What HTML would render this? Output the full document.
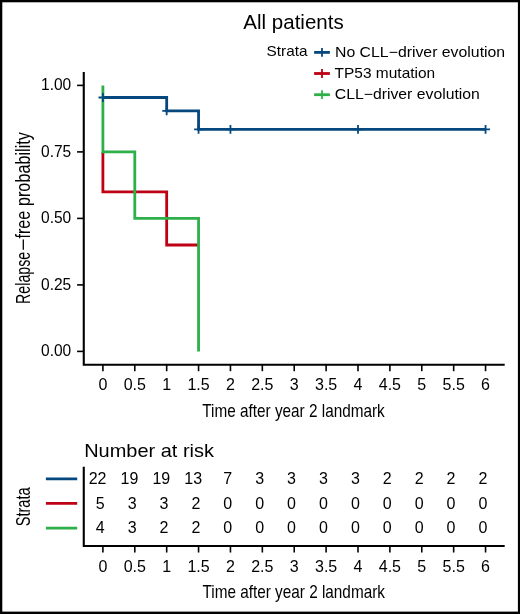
<!DOCTYPE html>
<html><head><meta charset="utf-8"><title>All patients</title>
<style>html,body{margin:0;padding:0;background:#fff;}svg{display:block;will-change:transform;}text{font-family:"Liberation Sans",sans-serif;}</style>
</head><body>
<svg width="520" height="614" viewBox="0 0 520 614" font-family="Liberation Sans, sans-serif" fill="#000">
<rect x="0" y="0" width="520" height="614" fill="#000"/>
<rect x="2.3" y="2.3" width="515.6" height="609.3" fill="#fff"/>
<text x="293.5" y="29" font-size="20.5" text-anchor="middle">All patients</text>
<text transform="translate(266.6,56.4) scale(1.05,1)" font-size="14.6" text-anchor="start">Strata</text>
<text transform="translate(335,57) scale(1.084,1)" font-size="14.6" text-anchor="start">No CLL−driver evolution</text>
<text transform="translate(334.6,77.8) scale(1.06,1)" font-size="14.6" text-anchor="start">TP53 mutation</text>
<text transform="translate(334.8,99) scale(1.081,1)" font-size="14.6" text-anchor="start">CLL−driver evolution</text>
<line x1="314.1" x2="329.9" y1="52.4" y2="52.4" stroke="#05487F" stroke-width="2.8"/>
<line x1="322" x2="322" y1="48" y2="56.8" stroke="#05487F" stroke-width="1.8"/>
<line x1="314.1" x2="329.9" y1="73.5" y2="73.5" stroke="#BE0014" stroke-width="2.8"/>
<line x1="322" x2="322" y1="69.1" y2="77.9" stroke="#BE0014" stroke-width="1.8"/>
<line x1="314.1" x2="329.9" y1="94.7" y2="94.7" stroke="#2DB04A" stroke-width="2.8"/>
<line x1="322" x2="322" y1="90.3" y2="99.1" stroke="#2DB04A" stroke-width="1.8"/>
<path d="M102.9,97.49 L166.68,97.49 L166.68,110.85 L198.56,110.85 L198.56,129.36 L485.55,129.36" fill="none" stroke="#05487F" stroke-width="2.8" stroke-linejoin="miter" stroke-linecap="butt"/>
<path d="M102.9,151.9 L102.9,191.8 L166.68,191.8 L166.68,245 L198.56,245" fill="none" stroke="#BE0014" stroke-width="2.8" stroke-linejoin="miter" stroke-linecap="butt"/>
<path d="M102.9,85.4 L102.9,151.9 L134.79,151.9 L134.79,218.4 L198.56,218.4 L198.56,351.4" fill="none" stroke="#2DB04A" stroke-width="2.8" stroke-linejoin="miter" stroke-linecap="butt"/>
<path d="M98.5,97.49 H107.3 M102.9,93.09 V101.89" stroke="#05487F" stroke-width="1.8" fill="none"/>
<path d="M162.28,110.85 H171.08 M166.68,106.45 V115.25" stroke="#05487F" stroke-width="1.8" fill="none"/>
<path d="M194.16,129.36 H202.96 M198.56,124.96 V133.76" stroke="#05487F" stroke-width="1.8" fill="none"/>
<path d="M226.05,129.36 H234.85 M230.45,124.96 V133.76" stroke="#05487F" stroke-width="1.8" fill="none"/>
<path d="M353.6,129.36 H362.4 M358,124.96 V133.76" stroke="#05487F" stroke-width="1.8" fill="none"/>
<path d="M481.15,129.36 H489.95 M485.55,124.96 V133.76" stroke="#05487F" stroke-width="1.8" fill="none"/>
<path d="M83.77,72.1 V364.7 H504.68" fill="none" stroke="#000" stroke-width="2.1" stroke-linecap="butt" stroke-linejoin="miter"/>
<line x1="77.07" x2="83.77" y1="351.4" y2="351.4" stroke="#000" stroke-width="1.6"/>
<text transform="translate(71.2,356) scale(0.97,1)" font-size="16" text-anchor="end">0.00</text>
<line x1="77.07" x2="83.77" y1="284.9" y2="284.9" stroke="#000" stroke-width="1.6"/>
<text transform="translate(71.2,289.5) scale(0.97,1)" font-size="16" text-anchor="end">0.25</text>
<line x1="77.07" x2="83.77" y1="218.4" y2="218.4" stroke="#000" stroke-width="1.6"/>
<text transform="translate(71.2,223) scale(0.97,1)" font-size="16" text-anchor="end">0.50</text>
<line x1="77.07" x2="83.77" y1="151.9" y2="151.9" stroke="#000" stroke-width="1.6"/>
<text transform="translate(71.2,156.5) scale(0.97,1)" font-size="16" text-anchor="end">0.75</text>
<line x1="77.07" x2="83.77" y1="85.4" y2="85.4" stroke="#000" stroke-width="1.6"/>
<text transform="translate(71.2,90) scale(0.97,1)" font-size="16" text-anchor="end">1.00</text>
<line x1="102.9" x2="102.9" y1="364.7" y2="371.2" stroke="#000" stroke-width="1.6"/>
<text x="102.9" y="389.5" font-size="16" text-anchor="middle">0</text>
<line x1="134.79" x2="134.79" y1="364.7" y2="371.2" stroke="#000" stroke-width="1.6"/>
<text x="134.79" y="389.5" font-size="16" text-anchor="middle">0.5</text>
<line x1="166.68" x2="166.68" y1="364.7" y2="371.2" stroke="#000" stroke-width="1.6"/>
<text x="166.68" y="389.5" font-size="16" text-anchor="middle">1</text>
<line x1="198.56" x2="198.56" y1="364.7" y2="371.2" stroke="#000" stroke-width="1.6"/>
<text x="198.56" y="389.5" font-size="16" text-anchor="middle">1.5</text>
<line x1="230.45" x2="230.45" y1="364.7" y2="371.2" stroke="#000" stroke-width="1.6"/>
<text x="230.45" y="389.5" font-size="16" text-anchor="middle">2</text>
<line x1="262.34" x2="262.34" y1="364.7" y2="371.2" stroke="#000" stroke-width="1.6"/>
<text x="262.34" y="389.5" font-size="16" text-anchor="middle">2.5</text>
<line x1="294.23" x2="294.23" y1="364.7" y2="371.2" stroke="#000" stroke-width="1.6"/>
<text x="294.23" y="389.5" font-size="16" text-anchor="middle">3</text>
<line x1="326.11" x2="326.11" y1="364.7" y2="371.2" stroke="#000" stroke-width="1.6"/>
<text x="326.11" y="389.5" font-size="16" text-anchor="middle">3.5</text>
<line x1="358" x2="358" y1="364.7" y2="371.2" stroke="#000" stroke-width="1.6"/>
<text x="358" y="389.5" font-size="16" text-anchor="middle">4</text>
<line x1="389.89" x2="389.89" y1="364.7" y2="371.2" stroke="#000" stroke-width="1.6"/>
<text x="389.89" y="389.5" font-size="16" text-anchor="middle">4.5</text>
<line x1="421.77" x2="421.77" y1="364.7" y2="371.2" stroke="#000" stroke-width="1.6"/>
<text x="421.77" y="389.5" font-size="16" text-anchor="middle">5</text>
<line x1="453.66" x2="453.66" y1="364.7" y2="371.2" stroke="#000" stroke-width="1.6"/>
<text x="453.66" y="389.5" font-size="16" text-anchor="middle">5.5</text>
<line x1="485.55" x2="485.55" y1="364.7" y2="371.2" stroke="#000" stroke-width="1.6"/>
<text x="485.55" y="389.5" font-size="16" text-anchor="middle">6</text>
<text transform="translate(293.5,416.5) scale(0.824,1)" font-size="18.6" text-anchor="middle">Time after year 2 landmark</text>
<text transform="translate(29.5,303.9) rotate(-90) scale(0.689,1)" font-size="20.6" text-anchor="start">Relapse</text>
<line x1="23.3" x2="23.3" y1="249.7" y2="239.6" stroke="#000" stroke-width="1.3"/>
<text transform="translate(29.5,238.6) rotate(-90) scale(0.789,1)" font-size="20.6" text-anchor="start">free probability</text>
<text transform="translate(84.2,456.8) scale(1.11,1)" font-size="18.0" text-anchor="start">Number at risk</text>
<path d="M83.77,466.7 V546 H504.68" fill="none" stroke="#000" stroke-width="2.1" stroke-linecap="butt"/>
<line x1="45.9" x2="77.2" y1="478.9" y2="478.9" stroke="#05487F" stroke-width="2.8"/>
<line x1="45.9" x2="77.2" y1="503.4" y2="503.4" stroke="#BE0014" stroke-width="2.8"/>
<line x1="45.9" x2="77.2" y1="528.1" y2="528.1" stroke="#2DB04A" stroke-width="2.8"/>
<text x="97.56" y="483.5" font-size="16.0" text-anchor="middle">22</text>
<text x="129.45" y="483.5" font-size="16.0" text-anchor="middle">19</text>
<text x="161.34" y="483.5" font-size="16.0" text-anchor="middle">19</text>
<text x="193.22" y="483.5" font-size="16.0" text-anchor="middle">13</text>
<text x="227.78" y="483.5" font-size="16.0" text-anchor="middle">7</text>
<text x="259.67" y="483.5" font-size="16.0" text-anchor="middle">3</text>
<text x="291.56" y="483.5" font-size="16.0" text-anchor="middle">3</text>
<text x="323.44" y="483.5" font-size="16.0" text-anchor="middle">3</text>
<text x="355.33" y="483.5" font-size="16.0" text-anchor="middle">3</text>
<text x="387.22" y="483.5" font-size="16.0" text-anchor="middle">2</text>
<text x="419.11" y="483.5" font-size="16.0" text-anchor="middle">2</text>
<text x="450.99" y="483.5" font-size="16.0" text-anchor="middle">2</text>
<text x="482.88" y="483.5" font-size="16.0" text-anchor="middle">2</text>
<text x="100.23" y="508.5" font-size="16.0" text-anchor="middle">5</text>
<text x="132.12" y="508.5" font-size="16.0" text-anchor="middle">3</text>
<text x="164.01" y="508.5" font-size="16.0" text-anchor="middle">3</text>
<text x="195.89" y="508.5" font-size="16.0" text-anchor="middle">2</text>
<text x="227.78" y="508.5" font-size="16.0" text-anchor="middle">0</text>
<text x="259.67" y="508.5" font-size="16.0" text-anchor="middle">0</text>
<text x="291.56" y="508.5" font-size="16.0" text-anchor="middle">0</text>
<text x="323.44" y="508.5" font-size="16.0" text-anchor="middle">0</text>
<text x="355.33" y="508.5" font-size="16.0" text-anchor="middle">0</text>
<text x="387.22" y="508.5" font-size="16.0" text-anchor="middle">0</text>
<text x="419.11" y="508.5" font-size="16.0" text-anchor="middle">0</text>
<text x="450.99" y="508.5" font-size="16.0" text-anchor="middle">0</text>
<text x="482.88" y="508.5" font-size="16.0" text-anchor="middle">0</text>
<text x="100.23" y="533" font-size="16.0" text-anchor="middle">4</text>
<text x="132.12" y="533" font-size="16.0" text-anchor="middle">3</text>
<text x="164.01" y="533" font-size="16.0" text-anchor="middle">2</text>
<text x="195.89" y="533" font-size="16.0" text-anchor="middle">2</text>
<text x="227.78" y="533" font-size="16.0" text-anchor="middle">0</text>
<text x="259.67" y="533" font-size="16.0" text-anchor="middle">0</text>
<text x="291.56" y="533" font-size="16.0" text-anchor="middle">0</text>
<text x="323.44" y="533" font-size="16.0" text-anchor="middle">0</text>
<text x="355.33" y="533" font-size="16.0" text-anchor="middle">0</text>
<text x="387.22" y="533" font-size="16.0" text-anchor="middle">0</text>
<text x="419.11" y="533" font-size="16.0" text-anchor="middle">0</text>
<text x="450.99" y="533" font-size="16.0" text-anchor="middle">0</text>
<text x="482.88" y="533" font-size="16.0" text-anchor="middle">0</text>
<text transform="translate(29.7,506.85) rotate(-90) scale(0.71,1)" font-size="20.6" text-anchor="middle">Strata</text>
<line x1="102.9" x2="102.9" y1="546" y2="552.5" stroke="#000" stroke-width="1.6"/>
<text x="102.9" y="571.7" font-size="16" text-anchor="middle">0</text>
<line x1="134.79" x2="134.79" y1="546" y2="552.5" stroke="#000" stroke-width="1.6"/>
<text x="134.79" y="571.7" font-size="16" text-anchor="middle">0.5</text>
<line x1="166.68" x2="166.68" y1="546" y2="552.5" stroke="#000" stroke-width="1.6"/>
<text x="166.68" y="571.7" font-size="16" text-anchor="middle">1</text>
<line x1="198.56" x2="198.56" y1="546" y2="552.5" stroke="#000" stroke-width="1.6"/>
<text x="198.56" y="571.7" font-size="16" text-anchor="middle">1.5</text>
<line x1="230.45" x2="230.45" y1="546" y2="552.5" stroke="#000" stroke-width="1.6"/>
<text x="230.45" y="571.7" font-size="16" text-anchor="middle">2</text>
<line x1="262.34" x2="262.34" y1="546" y2="552.5" stroke="#000" stroke-width="1.6"/>
<text x="262.34" y="571.7" font-size="16" text-anchor="middle">2.5</text>
<line x1="294.23" x2="294.23" y1="546" y2="552.5" stroke="#000" stroke-width="1.6"/>
<text x="294.23" y="571.7" font-size="16" text-anchor="middle">3</text>
<line x1="326.11" x2="326.11" y1="546" y2="552.5" stroke="#000" stroke-width="1.6"/>
<text x="326.11" y="571.7" font-size="16" text-anchor="middle">3.5</text>
<line x1="358" x2="358" y1="546" y2="552.5" stroke="#000" stroke-width="1.6"/>
<text x="358" y="571.7" font-size="16" text-anchor="middle">4</text>
<line x1="389.89" x2="389.89" y1="546" y2="552.5" stroke="#000" stroke-width="1.6"/>
<text x="389.89" y="571.7" font-size="16" text-anchor="middle">4.5</text>
<line x1="421.77" x2="421.77" y1="546" y2="552.5" stroke="#000" stroke-width="1.6"/>
<text x="421.77" y="571.7" font-size="16" text-anchor="middle">5</text>
<line x1="453.66" x2="453.66" y1="546" y2="552.5" stroke="#000" stroke-width="1.6"/>
<text x="453.66" y="571.7" font-size="16" text-anchor="middle">5.5</text>
<line x1="485.55" x2="485.55" y1="546" y2="552.5" stroke="#000" stroke-width="1.6"/>
<text x="485.55" y="571.7" font-size="16" text-anchor="middle">6</text>
<text transform="translate(293.7,598.3) scale(0.824,1)" font-size="18.6" text-anchor="middle">Time after year 2 landmark</text>
</svg>
</body></html>
